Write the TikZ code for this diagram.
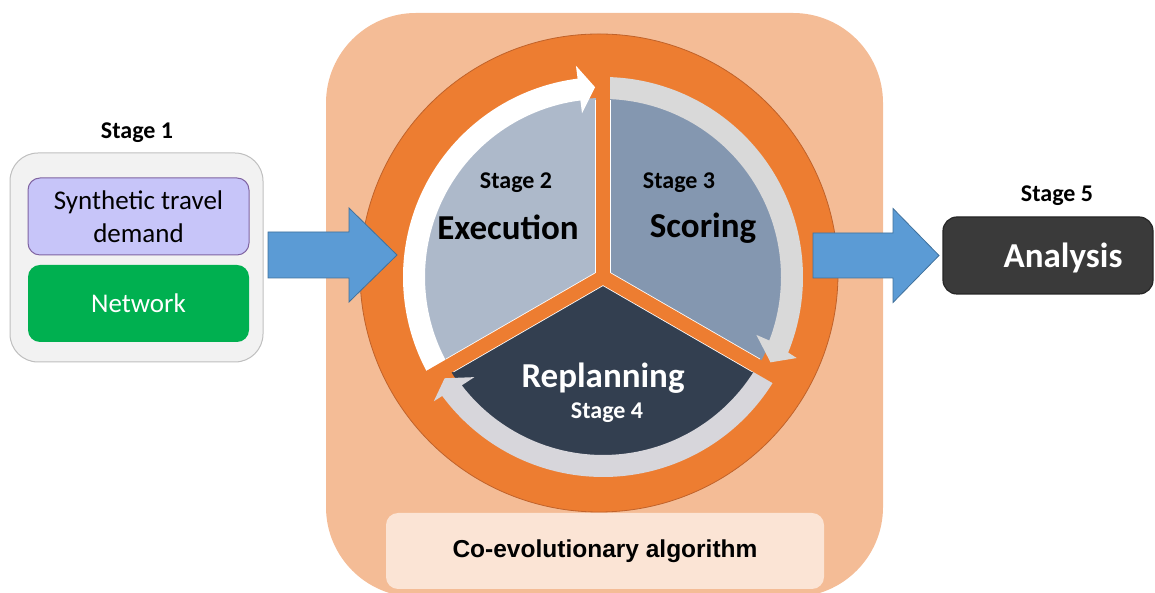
\documentclass[tikz,border=0pt]{standalone}
\usepackage{fontspec}
\setmainfont{Carlito}
\newfontfamily\arialfont{Liberation Sans}

\definecolor{peach}{HTML}{F4BC96}
\definecolor{peachlight}{HTML}{FBE4D5}
\definecolor{ringorange}{HTML}{ED7D31}
\definecolor{ringedge}{HTML}{C0622A}
\definecolor{execfill}{HTML}{ADB9CA}
\definecolor{scorefill}{HTML}{8497B0}
\definecolor{replanfill}{HTML}{333F50}
\definecolor{bandgray}{HTML}{D9D9D9}
\definecolor{bandlav}{HTML}{D7D6DB}
\definecolor{arrowblue}{HTML}{5B9BD5}
\definecolor{arrowedge}{HTML}{41719C}
\definecolor{panelgray}{HTML}{F2F2F2}
\definecolor{paneledge}{HTML}{BFBFBF}
\definecolor{lavender}{HTML}{C7C5F9}
\definecolor{lavedge}{HTML}{8064A2}
\definecolor{netgreen}{HTML}{00B050}
\definecolor{darkbox}{HTML}{3A3A3A}

\tikzset{
  stagelabel/.style={font=\bfseries\fontsize{24}{28}\selectfont, inner sep=0pt},
  biglabel/.style={font=\bfseries\fontsize{35}{40}\selectfont, inner sep=0pt},
  inputbox/.style={rounded corners=12pt, minimum width=221pt, minimum height=77pt,
    inner sep=0pt, font=\fontsize{27}{33}\selectfont, align=center},
  blockarrow/.style={fill=arrowblue, draw=arrowedge, line width=0.8pt, line join=miter},
}

\begin{document}
\begin{tikzpicture}[x=1pt,y=1pt]
\useasboundingbox (0,0) rectangle (1155,593);

% peach backdrop of the co-evolutionary loop
\fill[peach, rounded corners=90pt] (326,-4) rectangle (883,580);
\node[fill=peachlight, rounded corners=12pt, minimum width=438pt, minimum height=76pt,
  inner sep=0pt, font=\arialfont\bfseries\fontsize{24.5}{28}\selectfont] (coevo) at (605,42)
  {Co-evolutionary algorithm};

% orange disc
\node[circle, fill=ringorange, draw=ringedge, line width=0.8pt, minimum size=478pt,
  inner sep=0pt] (cyc) at (599,320) {};

\coordinate (C) at (603,316);
\begin{scope}[shift={(C)}]
  % three sectors
  \fill[execfill] (0,0) -- (90:179pt) arc[start angle=90, end angle=210, radius=179pt] -- cycle;
  \fill[replanfill] (0,0) -- (210:179pt) arc[start angle=210, end angle=330, radius=179pt] -- cycle;
  \fill[scorefill] (0,0) -- (-30:179pt) arc[start angle=-30, end angle=90, radius=179pt] -- cycle;

  % curved arrows round the cycle
  \fill[white] (209:200pt) arc[start angle=209, end angle=97.3, radius=200pt]
    -- (97.3:213pt) -- (92.4:190pt) -- (97.3:165pt) -- (97.3:178pt)
    arc[start angle=97.3, end angle=209, radius=178pt] -- cycle;
  \fill[bandgray] (90:200pt) arc[start angle=90, end angle=-22.2, radius=200pt]
    -- (-22.7:210pt) -- (-27:188pt) -- (-20.7:164pt) -- (-20.9:178pt)
    arc[start angle=-20.9, end angle=90, radius=178pt] -- cycle;
  \fill[bandlav] (330:200pt) arc[start angle=330, end angle=216.5, radius=200pt]
    -- (216.3:210pt) -- (212.6:188pt) -- (217.9:163pt) -- (217.5:178pt)
    arc[start angle=217.5, end angle=330, radius=178pt] -- cycle;

  % separators between the sectors
  \foreach \a in {90,210,330}
    \draw[white, line width=15.6pt] (0,0) -- (\a:177pt);
  \foreach \a in {90,210,330}
    \draw[ringorange, line width=14pt] (0,0) -- (\a:204pt);
\end{scope}

% sector labels
\node[stagelabel] (s2) at (516,410) {Stage 2};
\node[biglabel] (exec) at (508,366) {Execution};
\node[stagelabel] (s3) at (679,410) {Stage 3};
\node[biglabel] (score) at (703,365) {Scoring};
\node[biglabel, text=white] (replan) at (603,215) {Replanning};
\node[stagelabel, text=white] (s4) at (607,180) {Stage 4};

% stage 1 inputs
\node[stagelabel] (s1) at (137,460) {Stage 1};
\node[fill=panelgray, draw=paneledge, line width=1pt, rounded corners=28pt,
  minimum width=253pt, minimum height=209pt, inner sep=0pt] (inputs) at (136.5,335.5) {};
\node[inputbox, fill=lavender, draw=lavedge, line width=1pt] (demand) at (138.5,376.5)
  {Synthetic travel\\demand};
\node[inputbox, fill=netgreen, text=white] (network) at (138.5,289.5) {Network};

% stage 5 output
\node[stagelabel] (s5) at (1057,397) {Stage 5};
\node[fill=darkbox, draw=black!85, line width=1.2pt, rounded corners=14pt,
  minimum width=210pt, minimum height=77pt, inner sep=0pt] (analysisbox) at (1048,337.5) {};
\node[biglabel, text=white] (analysis) at (1063,335) {Analysis};

% flow arrows: inputs into the loop, loop out to the analysis
\coordinate (intail) at (268,338);
\draw[blockarrow] (intail) ++(0,-23) -- ++(81,0) -- ++(0,-24) -- ++(48,47)
  -- ++(-48,47) -- ++(0,-24) -- ++(-81,0) -- cycle;
\coordinate (outtail) at (813,337.5);
\draw[blockarrow] (outtail) ++(0,-22.5) -- ++(80,0) -- ++(0,-24.5) -- ++(46,47)
  -- ++(-46,47) -- ++(0,-24.5) -- ++(-80,0) -- cycle;
\end{tikzpicture}
\end{document}
